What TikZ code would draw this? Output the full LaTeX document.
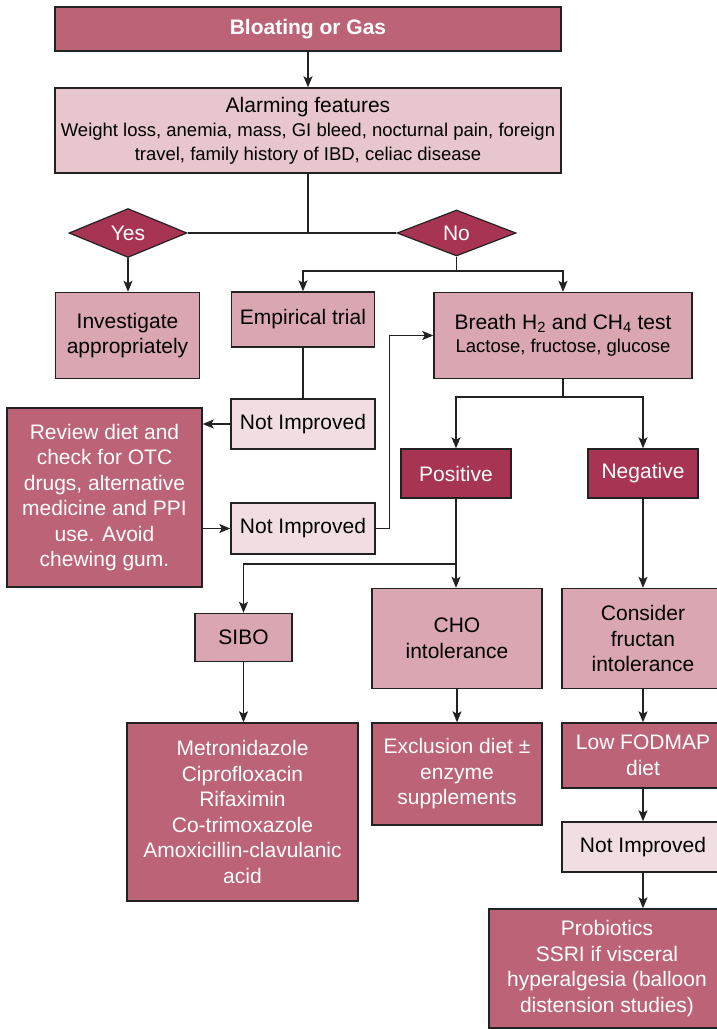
\documentclass[tikz,border=0pt]{standalone}
\usepackage{fontspec}
\setmainfont{Liberation Sans}
\usetikzlibrary{shapes.geometric,arrows.meta}

\definecolor{midrose}{HTML}{BC6378}
\definecolor{darkrose}{HTML}{A83454}
\definecolor{lightrose}{HTML}{D9A6B2}
\definecolor{palerose}{HTML}{E7C6CD}
\definecolor{faintrose}{HTML}{F0DEE3}
\definecolor{edge}{HTML}{222222}

\tikzset{
  box/.style={draw=edge, line width=1.4pt, rectangle, inner sep=0pt, align=center,
    font=\fontsize{21}{25.5}\selectfont},
  midbox/.style={box, fill=midrose, text=white},
  darkbox/.style={box, fill=darkrose, text=white},
  lightbox/.style={box, fill=lightrose, text=black},
  palebox/.style={box, fill=palerose, text=black},
  faintbox/.style={box, fill=faintrose, text=black},
  choice/.style={draw=edge, line width=1.2pt, diamond, fill=darkrose, text=white, inner sep=0pt,
    font=\fontsize{21}{25}\selectfont},
  link/.style={draw=edge, line width=1.3pt},
  arr/.style={link, -{Stealth[length=11pt,width=9pt,inset=2.5pt]}},
}

\begin{document}
\begin{tikzpicture}[x=1pt,y=-1pt]
\useasboundingbox (0,0) rectangle (717,1029);
\clip (0,0) rectangle (717,1029);

% top of the chart
\node[midbox, minimum width=506, minimum height=44, font=\bfseries\fontsize{21}{25}\selectfont]
  (bloat) at (308,29) {Bloating or Gas};
\node[palebox, minimum width=506, minimum height=85, font=\fontsize{18.5}{24}\selectfont]
  (alarm) at (308,130.5) {{\fontsize{21}{24}\selectfont Alarming features}\\
  Weight loss, anemia, mass, GI bleed, nocturnal pain, foreign\\
  travel, family history of IBD, celiac disease};

% decision
\node[choice, minimum width=118, minimum height=46] (yes) at (128,233) {Yes};
\node[choice, minimum width=119, minimum height=46] (no) at (456.5,233) {No};

% second row
\node[lightbox, minimum width=144, minimum height=86] (invest) at (127.5,335.5) {Investigate\\appropriately};
\node[lightbox, minimum width=143, minimum height=55] (emp) at (303,319.5) {Empirical trial};
\node[lightbox, minimum width=258, minimum height=86, font=\fontsize{18.5}{23}\selectfont]
  (breath) at (563,335.5) {{\fontsize{21}{23}\selectfont Breath H\textsubscript{2} and CH\textsubscript{4} test}\\
  Lactose, fructose, glucose};

% empirical branch
\node[faintbox, minimum width=144, minimum height=50] (ni1) at (303,424) {Not Improved};
\node[midbox, minimum width=195, minimum height=179] (review) at (104.5,497.5)
  {Review diet and\\check for OTC\\drugs, alternative\\medicine and PPI\\use. Avoid\\chewing gum.};
\node[faintbox, minimum width=144, minimum height=51] (ni2) at (303,528.5) {Not Improved};

% breath test results
\node[darkbox, minimum width=110, minimum height=49] (pos) at (456,473.5) {Positive};
\node[darkbox, minimum width=110, minimum height=49] (neg) at (643,473.5) {Negative};

\node[lightbox, minimum width=97, minimum height=48] (sibo) at (243.5,637.5) {SIBO};
\node[lightbox, minimum width=170, minimum height=100] (cho) at (457,638.5) {CHO\\intolerance};
\node[lightbox, minimum width=162, minimum height=100] (cons) at (643,638.5) {Consider\\fructan\\intolerance};

% treatments
\node[midbox, minimum width=231, minimum height=178] (metro) at (242.5,812)
  {Metronidazole\\Ciprofloxacin\\Rifaximin\\Co-trimoxazole\\Amoxicillin-clavulanic\\acid};
\node[midbox, minimum width=170, minimum height=102] (excl) at (457,774)
  {Exclusion diet ±\\enzyme\\supplements};
\node[midbox, minimum width=162, minimum height=65] (lowf) at (643,755.5) {Low FODMAP\\diet};
\node[faintbox, minimum width=162, minimum height=50] (ni3) at (643,847) {Not Improved};
\node[midbox, minimum width=236, minimum height=119] (prob) at (607,968.5)
  {Probiotics\\SSRI if visceral\\hyperalgesia (balloon\\distension studies)};

% junction points
\coordinate (nosplit) at (456.5,271);
\coordinate (bsplit) at (563,397);
\coordinate (psplit) at (456,564);

% connectors
\draw[arr] (bloat.south) -- (alarm.north);
\draw[link] (alarm.south) -- (alarm.south |- yes.east);
\draw[link] (yes.east) -- (no.west);
\draw[arr] (yes.south) -- (yes.south |- invest.north);
\draw[link] (no.south) -- (nosplit);
\draw[arr] (nosplit) -| (emp.north);
\draw[arr] (nosplit) -| (breath.north);

\draw[link] (emp.south) -- (ni1.north);
\draw[arr] (ni1.west) -- (ni1.west -| review.east);
\draw[arr] (review.east |- ni2.west) -- (ni2.west);
\draw[arr] (ni2.east) -- ++(14,0) |- (breath.west);

\draw[link] (breath.south) -- (bsplit);
\draw[arr] (bsplit) -| (pos.north);
\draw[arr] (bsplit) -| (neg.north);

\draw[arr] (pos.south) -- (pos.south |- cho.north);
\draw[arr] (psplit) -| (sibo.north);
\draw[arr] (neg.south) -- (cons.north);

\draw[arr] (sibo.south) -- (sibo.south |- metro.north);
\draw[arr] (cho.south) -- (excl.north);
\draw[arr] (cons.south) -- (lowf.north);
\draw[arr] (lowf.south) -- (ni3.north);
\draw[arr] (ni3.south) -- (ni3.south |- prob.north);
\end{tikzpicture}
\end{document}
